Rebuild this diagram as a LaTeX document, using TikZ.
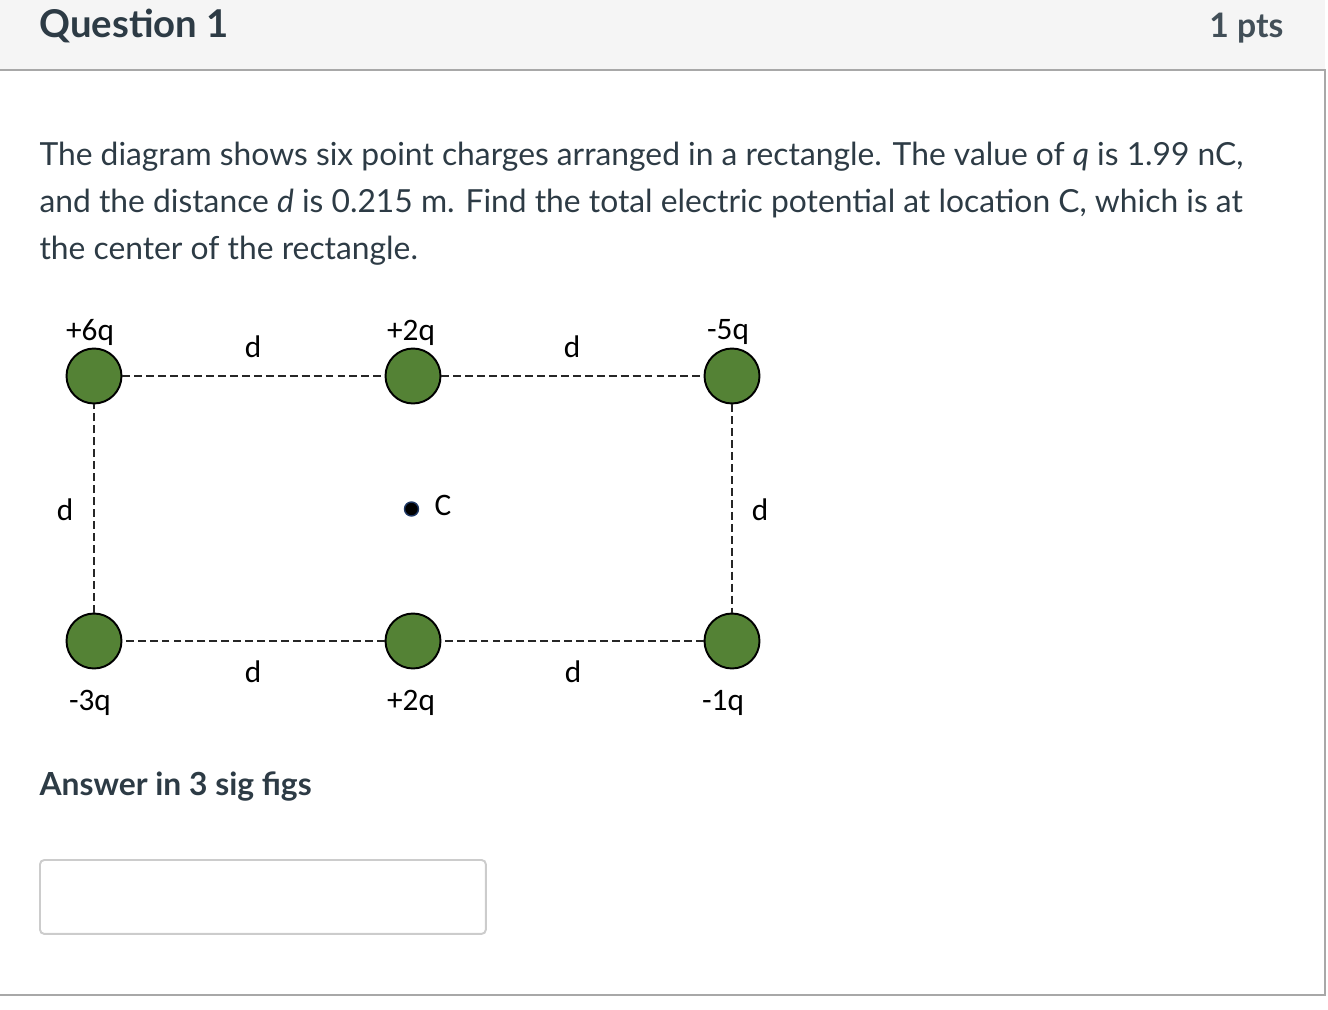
\documentclass[tikz,border=0pt]{standalone}
\usepackage{fontspec}
\setmainfont{Lato}
\newfontfamily\calibri{Carlito}
\usetikzlibrary{positioning}
\definecolor{canvastext}{HTML}{2D3B45}
\definecolor{chargegreen}{HTML}{548235}
\definecolor{framegray}{HTML}{A8A8A8}
\definecolor{headerbg}{HTML}{F5F5F5}
\definecolor{boxgray}{HTML}{CCCCCC}
\definecolor{dotblue}{HTML}{1F3864}

\begin{document}
\begin{tikzpicture}[x=0.02cm, y=-0.02cm, semithick]
        \tikzstyle{charge}=[draw=black, circle, fill=chargegreen, line width=1.1pt, minimum size=1.1cm, inner sep=0pt]
        \tikzstyle{lbl}=[anchor=base, inner sep=0pt, font=\calibri\fontsize{17.8}{21}\selectfont]
        \tikzstyle{para}=[anchor=base west, inner sep=0pt, text=canvastext, font=\fontsize{18.1}{22}\selectfont]
        \tikzstyle{link}=[draw=black!85, line width=0.6pt, dash pattern=on 4.5pt off 2.3pt]
        \useasboundingbox (0,0) rectangle (1328,1010);
        % question frame
        \fill[headerbg] (0,0) rectangle (1325,70);
        \draw[framegray, line width=1.2pt] (0,70) -- (1325,70) -- (1325,995) -- (0,995);
        \node[para, font=\bfseries\fontsize{21.8}{26}\selectfont] (title) at (39,38) {Question 1};
        \node[para, anchor=base east, text=canvastext!90, font=\bfseries\fontsize{19.2}{23}\selectfont] (pts) at (1284,38) {1 pts};
        % question text
        \node[para] (line1) at (39,166) {The diagram shows six point charges arranged in a rectangle. The value of \textit{q} is 1.99 nC,};
        \node[para] (line2) at (39,213) {and the distance \textit{d} is 0.215 m. Find the total electric potential at location C, which is at};
        \node[para] (line3) at (39,259) {the center of the rectangle.};
        % charges
        \node[charge] (tl) at (94,376)  {};
        \node[charge] (tm) at (413,376) {};
        \node[charge] (tr) at (732,376) {};
        \node[charge] (bl) at (94,641)  {};
        \node[charge] (bm) at (413,641) {};
        \node[charge] (br) at (732,641) {};
        \path[link]
        (tl) edge (tm)
        (tm) edge (tr)
        (tr) edge (br)
        (br) edge (bm)
        (bm) edge (bl)
        (bl) edge (tl);
        \node[lbl] (qtl) at (90,340)  {+6q};
        \node[lbl] (qtm) at (411,340) {+2q};
        \node[lbl] (qtr) at (728,339) {-5q};
        \node[lbl] (qbl) at (90,710)  {-3q};
        \node[lbl] (qbm) at (411,710) {+2q};
        \node[lbl] (qbr) at (723,710) {-1q};
        \node[lbl] (dtl) at (253,357) {d};
        \node[lbl] (dtr) at (572,357) {d};
        \node[lbl] (dl)  at (65,520)  {d};
        \node[lbl] (dr)  at (760,520) {d};
        \node[lbl] (dbl) at (253,682) {d};
        \node[lbl] (dbr) at (573,682) {d};
        % centre point
        \node[circle, fill=black, draw=dotblue, line width=0.8pt, minimum size=0.28cm, inner sep=0pt] (c) at (411.5,509) {};
        \node[lbl] (clbl) at (443,515) {C};
        % answer
        \node[para, font=\bfseries\fontsize{18.1}{22}\selectfont] (ansq) at (39,795) {Answer in 3 sig figs};
        \node[draw=boxgray, line width=1.1pt, rounded corners=2.5pt, anchor=north west, minimum width=8.92cm, minimum height=1.48cm, inner sep=0pt] (ans) at (39,859) {};
\end{tikzpicture}
\end{document}
